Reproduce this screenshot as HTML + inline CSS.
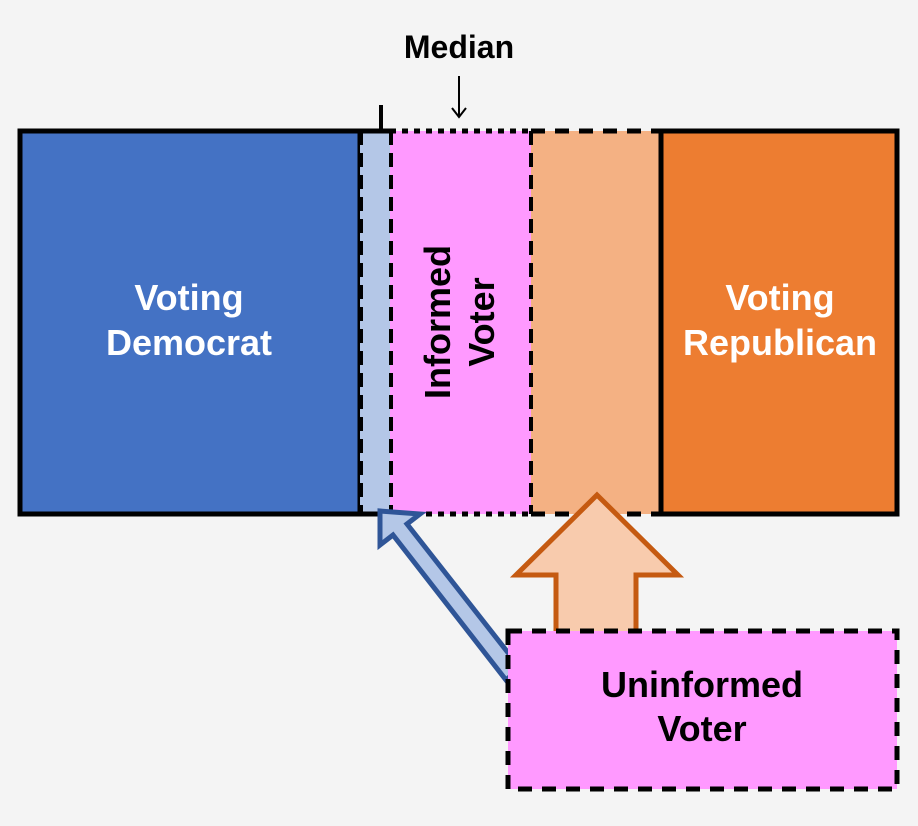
<!DOCTYPE html>
<html><head><style>
html,body{margin:0;padding:0;background:#f4f4f4;}
svg{display:block;}
text{font-family:"Liberation Sans","DejaVu Sans",sans-serif;font-weight:bold;}
</style></head><body>
<svg width="918" height="826" viewBox="0 0 918 826" xmlns="http://www.w3.org/2000/svg">
<rect width="918" height="826" fill="#f4f4f4"/>
<!-- boxes -->
<rect x="20" y="131" width="340" height="383" fill="#4472c4" stroke="#000" stroke-width="5"/>
<rect x="360" y="131" width="30" height="383" fill="#b4c7e7"/>
<rect x="390" y="131" width="141" height="383" fill="#ff99ff"/>
<rect x="531" y="131" width="130" height="383" fill="#f4b183"/>
<rect x="661" y="131" width="236" height="383" fill="#ed7d31" stroke="#000" stroke-width="5"/>
<!-- borders -->
<line x1="360" y1="131" x2="390" y2="131" stroke="#000" stroke-width="5"/>
<line x1="360" y1="514" x2="390" y2="514" stroke="#000" stroke-width="5"/>
<line x1="390" y1="131" x2="531" y2="131" stroke="#000" stroke-width="5" stroke-dasharray="6,6"/>
<line x1="390" y1="514" x2="531" y2="514" stroke="#000" stroke-width="5" stroke-dasharray="6,6"/>
<line x1="531" y1="131" x2="661" y2="131" stroke="#000" stroke-width="5" stroke-dasharray="14,10"/>
<line x1="531" y1="514" x2="661" y2="514" stroke="#000" stroke-width="5" stroke-dasharray="14,10"/>
<line x1="361" y1="131" x2="361" y2="514" stroke="#000" stroke-width="4" stroke-dasharray="14,8"/>
<line x1="391" y1="131" x2="391" y2="514" stroke="#000" stroke-width="4" stroke-dasharray="14,8"/>
<line x1="531" y1="131" x2="531" y2="514" stroke="#000" stroke-width="4" stroke-dasharray="14,8"/>
<line x1="661" y1="131" x2="661" y2="514" stroke="#000" stroke-width="4" stroke-dasharray="14,8"/>
<!-- tick -->
<line x1="381" y1="105" x2="381" y2="130" stroke="#000" stroke-width="4"/>
<!-- median -->
<text x="459" y="58" font-size="32" text-anchor="middle" fill="#000">Median</text>
<line x1="459" y1="76" x2="459" y2="116" stroke="#000" stroke-width="2"/>
<polyline points="452,108 459,117 466,108" fill="none" stroke="#000" stroke-width="2"/>
<!-- labels -->
<text x="189" y="310" font-size="36" text-anchor="middle" fill="#fff">Voting</text>
<text x="189" y="355" font-size="36" text-anchor="middle" fill="#fff">Democrat</text>
<text x="780" y="310" font-size="36" text-anchor="middle" fill="#fff">Voting</text>
<text x="780" y="355" font-size="36" text-anchor="middle" fill="#fff">Republican</text>
<g transform="translate(460,322) rotate(-90)">
<text x="0" y="-10" font-size="36" text-anchor="middle" fill="#000">Informed</text>
<text x="0" y="34" font-size="36" text-anchor="middle" fill="#000">Voter</text>
</g>
<!-- blue arrow -->
<polygon points="380,511 420,514 407,524 520,668 506,680 393,535 380,545" fill="#b4c7e7" stroke="#2f5597" stroke-width="5" stroke-linejoin="miter"/>
<!-- orange arrow -->
<polygon points="597,495 678,575 636,575 636,640 556,640 556,575 516,575" fill="#f8cbad" stroke="#c55a11" stroke-width="5"/>
<!-- uninformed box -->
<rect x="508" y="631" width="389" height="158" fill="#ff99ff" stroke="#000" stroke-width="5" stroke-dasharray="14,10"/>
<text x="702" y="697" font-size="36" text-anchor="middle" fill="#000">Uninformed</text>
<text x="702" y="741" font-size="36" text-anchor="middle" fill="#000">Voter</text>
</svg>
</body></html>
